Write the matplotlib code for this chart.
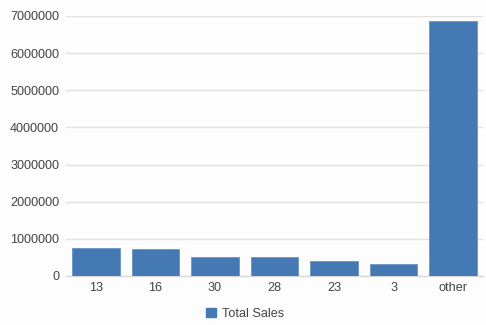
import matplotlib
matplotlib.use("Agg")
import matplotlib.pyplot as plt
from matplotlib.patches import Patch

categories = ["13", "16", "30", "28", "23", "3", "other"]
total_sales = [746000, 727000, 520000, 502000, 395000, 332000, 6857000]
yticks = [0, 1000000, 2000000, 3000000, 4000000, 5000000, 6000000, 7000000]

plt.rcParams['font.family'] = ['Liberation Sans', 'DejaVu Sans']

bg = '#fcfdfc'
fig = plt.figure(figsize=(4.86, 3.25), dpi=100, facecolor=bg)
ax = fig.add_axes([66/486, 49/325, 417/486, 260/325], facecolor=bg)

x = range(len(categories))
ax.bar(x, total_sales, width=0.8, color='#4479b4', edgecolor='#6a94c6', linewidth=0.6, zorder=3)
ax.set_xlim(-0.5, len(categories) - 0.5)
ax.set_ylim(0, 7000000)
ax.set_yticks(yticks)
ax.set_yticklabels([str(v) for v in yticks])
ax.set_xticks(list(x))
ax.set_xticklabels(categories)
ax.grid(axis='y', color='#e0e0e0', linewidth=1, zorder=0)
for s in ['top', 'right', 'left']:
    ax.spines[s].set_visible(False)
ax.spines['bottom'].set_color('#d8d8d8')
ax.spines['bottom'].set_linewidth(1)
ax.tick_params(axis='both', length=0, labelsize=9.1, colors='#444444')
ax.tick_params(axis='y', pad=5)
ax.tick_params(axis='x', pad=4)

handles = [Patch(facecolor='#4479b4', edgecolor='#4479b4', label='Total Sales')]
fig.legend(handles=handles, loc='center', bbox_to_anchor=(245/486, 1 - 314/325),
           frameon=False, fontsize=9.1, labelcolor='#444444',
           handlelength=0.75, handleheight=0.75, handletextpad=0.45)

fig.savefig('out.png', dpi=100, facecolor=bg)
